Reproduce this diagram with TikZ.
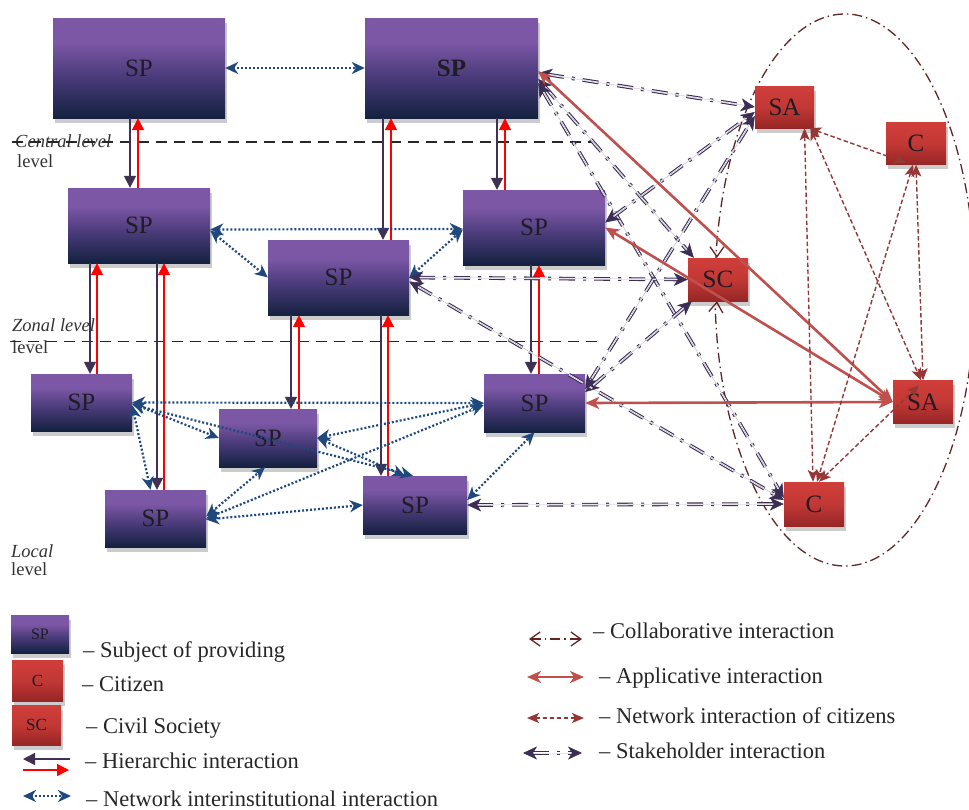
\documentclass[tikz,border=0pt]{standalone}
\usepackage{fontspec}
\setmainfont{Liberation Serif}
\usetikzlibrary{arrows.meta,shadows}

\definecolor{spTop}{RGB}{124,87,166}
\definecolor{spMid}{RGB}{72,58,120}
\definecolor{spBot}{RGB}{20,33,64}
\definecolor{rdTop}{RGB}{208,62,58}
\definecolor{rdMid}{RGB}{194,56,53}
\definecolor{rdBot}{RGB}{150,38,38}
\definecolor{hierC}{RGB}{63,49,81}
\definecolor{netC}{RGB}{31,73,125}
\definecolor{stkC}{RGB}{60,45,85}
\definecolor{appC}{RGB}{192,80,77}
\definecolor{citC}{RGB}{149,55,53}
\definecolor{colC}{RGB}{99,37,35}
\definecolor{txtC}{RGB}{30,28,36}

\pgfdeclareverticalshading{spshade}{100bp}{color(0bp)=(spBot); color(25bp)=(spBot); color(45bp)=(spMid); color(63bp)=(spTop); color(100bp)=(spTop)}
\pgfdeclareverticalshading{rdshade}{100bp}{color(0bp)=(rdBot); color(25bp)=(rdBot); color(50bp)=(rdMid); color(75bp)=(rdTop); color(100bp)=(rdTop)}

\tikzset{
  stkTip/.tip={Stealth[length=14pt,width=13pt,inset=4pt]},
  colTip/.tip={Straight Barb[length=10pt,width=14pt]},
  netTip/.tip={Stealth[length=13pt,width=12pt,inset=4pt]},
  appTip/.tip={Stealth[length=14pt,width=12pt,inset=4pt]},
  citTip/.tip={Stealth[length=12pt,width=10pt,inset=3pt]},
  hierTip/.tip={Triangle[length=12pt,width=12pt]},
  boxbase/.style={rectangle, inner sep=0pt, text=txtC, shade,
    drop shadow={shadow xshift=1.5pt, shadow yshift=-4.5pt, fill=black!20, opacity=1}},
  spbox/.style={boxbase, shading=spshade, font=\fontsize{25}{28}\selectfont},
  rdbox/.style={boxbase, shading=rdshade, font=\fontsize{25}{28}\selectfont},
  lvltext/.style={anchor=base west, inner sep=0pt, text=black!80, font=\fontsize{18.5}{22}\selectfont},
  legtext/.style={anchor=base west, inner sep=0pt, text=black!85, font=\fontsize{22.5}{26}\selectfont},
  hierD/.style={draw=hierC, line width=1.5pt, -hierTip},
  hierR/.style={draw=red, line width=1.5pt, -hierTip},
  netB/.style={draw=netC, line width=2.2pt, dash pattern=on 2pt off 2pt, netTip-netTip},
  stkL/.style={draw=stkC, line width=1.1pt, double=white, double distance=1.5pt,
    dash pattern=on 16pt off 8pt on 3pt off 8pt, shorten <=10pt, shorten >=10pt},
  stkT/.style={draw=stkC, fill=stkC, line width=0.6pt, line cap=butt, dash pattern=on 0pt off 2000pt, stkTip-stkTip},
  appL/.style={draw=appC, line width=2.6pt, appTip-appTip},
  citL/.style={draw=citC, line width=1.4pt, dash pattern=on 4.5pt off 2.5pt, citTip-citTip},
  colL/.style={draw=colC, line width=1.3pt, dash pattern=on 10pt off 4pt on 1.5pt off 4pt},
  colT/.style={draw=colC, line width=1.3pt, line cap=butt, dash pattern=on 0pt off 2000pt, -colTip},
  lvl/.style={draw=black!85, line width=1.3pt, dash pattern=on 11pt off 7pt}
}
\newcommand\stake[2]{\draw[stkL] #1 -- #2; \draw[stkT] #1 -- #2;}

\begin{document}
\begin{tikzpicture}[x=1pt,y=-1pt]
\useasboundingbox (0,0) rectangle (969,809);

% ellipse (collaborative)
\draw[colL] (845,290) ellipse [x radius=130pt, y radius=276pt];

% level labels and lines
\node[lvltext] (tc) at (15,147) {\textit{Central level}};
\node[lvltext] (tc2) at (17,167) {level};
\node[lvltext] (tz) at (12,331) {\textit{Zonal level}};
\node[lvltext] (tz2) at (12,353) {level};
\node[lvltext] (tl) at (11,557) {\textit{Local}};
\node[lvltext] (tl2) at (11,575.5) {level};
\draw[lvl] (12,142) -- (592,142);
\draw[lvl] (10,341.5) -- (600,341.5);

% SP boxes
\node[spbox, minimum width=172pt, minimum height=100pt] (SP1) at (139,68) {SP};
\node[spbox, minimum width=173pt, minimum height=100pt] (SP2) at (451.5,68) {\textbf{SP}};
\node[spbox, minimum width=142pt, minimum height=75pt] (SP3) at (139,225.5) {SP};
\node[spbox, minimum width=142pt, minimum height=75pt] (SP4) at (534,227.5) {SP};
\node[spbox, minimum width=141pt, minimum height=75pt] (SP5) at (338.5,277.5) {SP};
\node[spbox, minimum width=101pt, minimum height=57pt] (SP6) at (81.5,402.5) {SP};
\node[spbox, minimum width=98pt, minimum height=58pt] (SP7) at (268,438) {SP};
\node[spbox, minimum width=101pt, minimum height=57pt] (SP8) at (155.5,518.5) {SP};
\node[spbox, minimum width=104pt, minimum height=58pt] (SP9) at (415,505) {SP};
\node[spbox, minimum width=101pt, minimum height=58pt] (SP10) at (534.5,403) {SP};

% red boxes
\node[rdbox, minimum width=59pt, minimum height=42pt] (SA1) at (784.5,107) {SA};
\node[rdbox, minimum width=60pt, minimum height=42pt] (C1) at (916,143.5) {C};
\node[rdbox, minimum width=60pt, minimum height=43pt] (SC) at (718,279.5) {SC};
\node[rdbox, minimum width=60pt, minimum height=43pt] (SA2) at (923,402) {SA};
\node[rdbox, minimum width=60pt, minimum height=44pt] (C2) at (814,504) {C};

% hierarchic x positions
\coordinate (hd1) at (130,0); \coordinate (hr1) at (138,0);
\coordinate (hd2) at (383,0); \coordinate (hr2) at (391,0);
\coordinate (hd3) at (497,0); \coordinate (hr3) at (505,0);
\coordinate (hd4) at (90,0);  \coordinate (hr4) at (97,0);
\coordinate (hd5) at (157,0); \coordinate (hr5) at (164,0);
\coordinate (hd6) at (291,0); \coordinate (hr6) at (299,0);
\coordinate (hd7) at (381,0); \coordinate (hr7) at (388,0);
\coordinate (hd8) at (531,0); \coordinate (hr8) at (539,0);

\draw[hierD] (SP1.south -| hd1) -- (SP3.north -| hd1);
\draw[hierR] (SP3.north -| hr1) -- (SP1.south -| hr1);
\draw[hierD] (SP2.south -| hd2) -- (SP5.north -| hd2);
\draw[hierR] (SP5.north -| hr2) -- (SP2.south -| hr2);
\draw[hierD] (SP2.south -| hd3) -- (SP4.north -| hd3);
\draw[hierR] (SP4.north -| hr3) -- (SP2.south -| hr3);
\draw[hierD] (SP3.south -| hd4) -- (SP6.north -| hd4);
\draw[hierR] (SP6.north -| hr4) -- (SP3.south -| hr4);
\draw[hierD] (SP3.south -| hd5) -- (SP8.north -| hd5);
\draw[hierR] (SP8.north -| hr5) -- (SP3.south -| hr5);
\draw[hierD] (SP5.south -| hd6) -- (SP7.north -| hd6);
\draw[hierR] (SP7.north -| hr6) -- (SP5.south -| hr6);
\draw[hierD] (SP5.south -| hd7) -- (SP9.north -| hd7);
\draw[hierR] (SP9.north -| hr7) -- (SP5.south -| hr7);
\draw[hierD] (SP4.south -| hd8) -- (SP10.north -| hd8);
\draw[hierR] (SP10.north -| hr8) -- (SP4.south -| hr8);

% network interinstitutional
\draw[netB] (SP1.east) -- (SP2.west);
\draw[netB] ([yshift=-4pt]SP3.east) -- ([yshift=-1.5pt]SP4.west);
\draw[netB] ([yshift=-5pt]SP3.east) -- (SP5.west);
\draw[netB] (SP5.east) -- ([yshift=-2pt]SP4.west);
\draw[netB] (SP6.east) -- (SP10.west);
\draw[netB] ([yshift=-1pt]SP6.east) -- (SP7.west);
\draw[netB] ([yshift=-3pt]SP6.east) -- ([xshift=-5pt]SP8.north);
\draw[netB] ([yshift=-2pt]SP6.east) -- ([xshift=-2pt]SP9.north);
\draw[netB] (SP7.east) -- ([xshift=-10pt]SP9.north);
\draw[netB] (SP7.east) -- (SP10.west);
\draw[netB] (SP8.east) -- ([yshift=-2pt]SP10.west);
\draw[netB] ([yshift=2pt]SP8.east) -- ([xshift=-3pt]SP7.south);
\draw[netB] ([yshift=-1pt]SP8.east) -- (SP9.west);
\draw[netB] ([yshift=5pt]SP9.east) -- (SP10.south);

% stakeholder
\stake{([yshift=-5pt]SP2.east)}{(SA1.west)}
\stake{([yshift=-11pt]SP2.east)}{([xshift=6pt]SC.north west)}
\stake{([yshift=-15pt]SP2.east)}{([yshift=6pt]C2.west)}
\stake{([yshift=5pt]SP4.east)}{([yshift=-5pt]SA1.west)}
\stake{([yshift=14pt]SP10.east)}{([yshift=-9pt]SA1.west)}
\stake{([yshift=11pt]SP10.east)}{([xshift=4pt]SC.south west)}
\stake{(SP5.east)}{(SC.west)}
\stake{([yshift=-4pt]SP5.east)}{([yshift=4pt]C2.west)}
\stake{(SP9.east)}{(C2.west)}

% applicative
\draw[appL] ([yshift=-3pt]SP2.east) -- (SA2.west);
\draw[appL] (SP4.east) -- (SA2.west);
\draw[appL] (SP10.east) -- (SA2.west);

% network of citizens
\draw[citL] ([xshift=-5pt]SA1.south east) -- ([xshift=20pt,yshift=2pt]C1.south west);
\draw[citL] ([xshift=20pt]SA1.south) -- ([xshift=-1pt]C2.north);
\draw[citL] ([xshift=26pt]SA1.south) -- ([xshift=-2pt]SA2.north);
\draw[citL] (C1.south) -- (SA2.north);
\draw[citL] ([xshift=-3pt]C1.south) -- ([xshift=3pt]C2.north);
\draw[citL] ([xshift=5pt]C2.north) -- ([xshift=-4pt,yshift=-5pt]SA2.north);

% collaborative tips into SC
\draw[colT] ([xshift=-1pt,yshift=14pt]SC.north) -- ([xshift=-1pt]SC.north);
\draw[colT] ([xshift=-2.5pt,yshift=-14pt]SC.south) -- ([xshift=-1pt]SC.south);

% legend left
\node[spbox, minimum width=58pt, minimum height=38pt, font=\fontsize{16}{18}\selectfont] (LSP) at (40,634) {SP};
\node[rdbox, minimum width=51pt, minimum height=41pt, font=\fontsize{17}{19}\selectfont] (LC) at (37.5,680.5) {C};
\node[rdbox, minimum width=49pt, minimum height=40pt, font=\fontsize{17}{19}\selectfont] (LSC) at (36.5,725) {SC};
\node[legtext] (T1) at (83,657) {– Subject of providing};
\node[legtext] (T2) at (82,691) {– Citizen};
\node[legtext] (T3) at (86,733) {– Civil Society};
\node[legtext] (T4) at (85,768) {– Hierarchic interaction};
\node[legtext] (T5) at (86,806) {– Network interinstitutional interaction};
\coordinate (lhA) at (70,759); \coordinate (lhB) at (23,759);
\coordinate (lrA) at (23,770); \coordinate (lrB) at (69,770);
\coordinate (lnA) at (23,796); \coordinate (lnB) at (71,796);
\draw[hierD] (lhA) -- (lhB);
\draw[hierR] (lrA) -- (lrB);
\draw[netB] (lnA) -- (lnB);

% legend right
\coordinate (lcA) at (529,639); \coordinate (lcB) at (582,639);
\coordinate (laA) at (527,677); \coordinate (laB) at (584,677);
\coordinate (lzA) at (527,718); \coordinate (lzB) at (584,718);
\coordinate (lsA) at (523,753); \coordinate (lsB) at (582,753);
\draw[colL, colTip-colTip] (lcA) -- (lcB);
\draw[appL] (laA) -- (laB);
\draw[citL] (lzA) -- (lzB);
\stake{(lsA)}{(lsB)}
\node[legtext] (R1) at (593,638) {– Collaborative interaction};
\node[legtext] (R2) at (599,683) {– Applicative interaction};
\node[legtext] (R3) at (599,723) {– Network interaction of citizens};
\node[legtext] (R4) at (599,758) {– Stakeholder interaction};
\end{tikzpicture}
\end{document}
